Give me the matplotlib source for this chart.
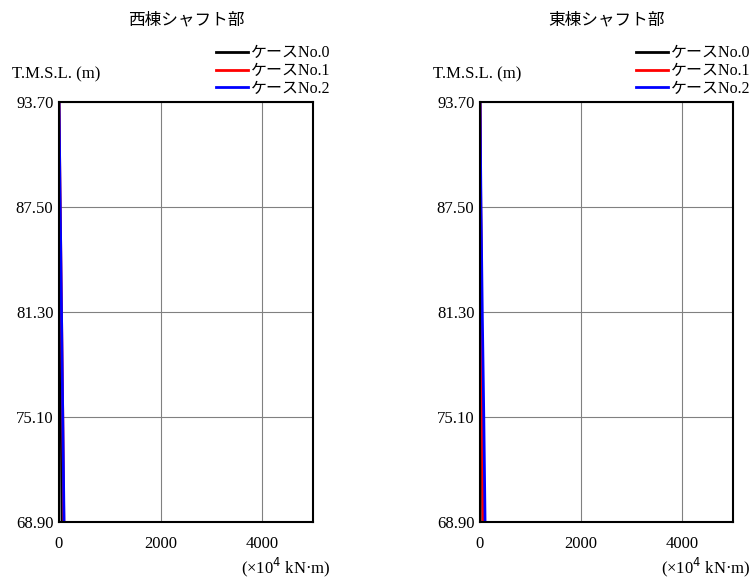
import matplotlib
matplotlib.use('Agg')
import matplotlib.pyplot as plt

plt.rcParams['font.family'] = ['Liberation Serif', 'Noto Sans CJK JP']

# elevation levels T.M.S.L. (m)
levels = [93.70, 87.50, 81.30, 75.10, 68.90]
level_labels = ['93.70', '87.50', '81.30', '75.10', '68.90']

# bending moment (x10^4 kN.m)
west_case0 = [0, 15, 30, 45, 60]
west_case1 = [0, 25, 50, 75, 95]
west_case2 = [0, 25, 50, 75, 100]

east_case0 = [0, 12, 25, 40, 55]
east_case1 = [0, 15, 30, 45, 60]
east_case2 = [0, 20, 45, 75, 100]

case_names = ['ケースNo.0', 'ケースNo.1', 'ケースNo.2']
colors = ['black', 'red', 'blue']
titles = ['西棟シャフト部', '東棟シャフト部']

fig = plt.figure(figsize=(7.54, 5.8), dpi=100)
ax1 = fig.add_axes([0.0782, 0.1, 0.337, 0.724])
ax2 = fig.add_axes([0.6366, 0.1, 0.3355, 0.724])

for ax, data, title in [(ax1, [west_case0, west_case1, west_case2], titles[0]),
                        (ax2, [east_case0, east_case1, east_case2], titles[1])]:
    for vals, c, name in zip(data, colors, case_names):
        ax.plot(vals, levels, color=c, lw=2, label=name)
    ax.set_xlim(0, 5000)
    ax.set_ylim(68.90, 93.70)
    ax.set_xticks([0, 2000, 4000])
    ax.set_yticks(levels)
    ax.set_yticklabels(level_labels)
    ax.tick_params(length=0, labelsize=12, pad=4)
    ax.tick_params(axis='x', pad=10)
    ax.grid(True, color='gray', lw=0.8)
    for s in ax.spines.values():
        s.set_linewidth(1.5)
    ax.text(0.5, 1.195, title, transform=ax.transAxes, fontsize=12,
            ha='center', va='center')
    ax.text(-0.185, 1.065, 'T.M.S.L. (m)', transform=ax.transAxes, fontsize=12,
            ha='left', va='center')
    ax.text(1.07, -0.108, '(×10$^4$ kN·m)', transform=ax.transAxes, fontsize=12,
            ha='right', va='center')
    ax.legend(loc='lower right', bbox_to_anchor=(1.07, 1.012), frameon=False,
              fontsize=11.5, handlelength=2.0, handletextpad=0.2,
              labelspacing=0.12, borderpad=0, borderaxespad=0)

fig.savefig('out.png', dpi=100)
